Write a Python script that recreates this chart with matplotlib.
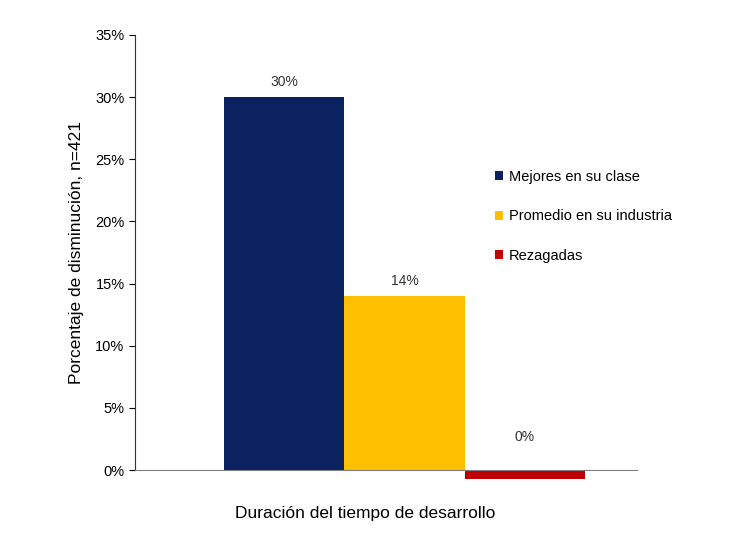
import matplotlib
matplotlib.use('Agg')
import matplotlib.pyplot as plt
from matplotlib.ticker import FuncFormatter

plt.rcParams['font.family'] = 'Liberation Sans'

series = ['Mejores en su clase', 'Promedio en su industria', 'Rezagadas']
values = [30, 14, -0.7]
labels = ['30%', '14%', '0%']
colors = ['#0a2260', '#fdbf00', '#c00000']

fig = plt.figure(figsize=(7.52, 5.33), dpi=100)
ax = fig.add_axes([135 / 752, 63 / 533, 502 / 752, 435 / 533])

x = [0, 1, 2]
bars = ax.bar(x, values, width=1.0, color=colors, label=series)
for xi, v, lab in zip(x, values, labels):
    ty = v + 1.2 if v > 0 else 2.65
    ax.text(xi, ty, lab, ha='center', va='center', fontsize=10, color='#333333')

ax.set_xlim(-1.24, 2.93)
ax.set_ylim(0, 35)
ax.set_yticks(range(0, 36, 5))
ax.yaxis.set_major_formatter(FuncFormatter(lambda v, p: f'{int(v)}%'))
ax.set_xticks([])
ax.tick_params(axis='y', labelsize=10.5, direction='out', length=4)
for s in ['top', 'right']:
    ax.spines[s].set_visible(False)
ax.spines['bottom'].set_position(('data', 0))
ax.spines['bottom'].set_color('#808080')
ax.spines['left'].set_color('#333333')
ax.set_ylabel('Porcentaje de disminución, n=421', fontsize=12.5, labelpad=8)
for b in bars:
    b.set_clip_on(False)

fig.text(365 / 752, 1 - 518 / 533, 'Duración del tiempo de desarrollo', ha='center', fontsize=12.5)

ax.legend(handles=bars, labels=series, loc='upper left', bbox_to_anchor=(0.69, 0.72),
          frameon=False, fontsize=10.5, handlelength=0.6, handleheight=0.6,
          handletextpad=0.4, labelspacing=1.75)

fig.savefig('out.png', dpi=100)
